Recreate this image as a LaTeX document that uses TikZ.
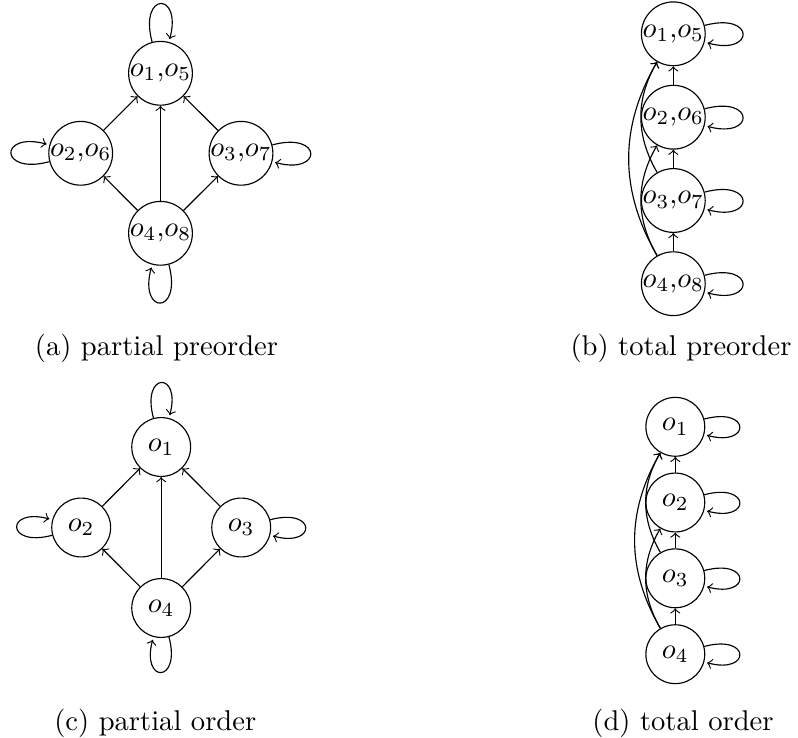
\documentclass[tikz,border=0pt]{standalone}
\begin{document}
\begin{tikzpicture}[x=0.35pt,y=-0.35pt,
  bignode/.style={circle,draw,inner sep=0pt,minimum size=22pt},
  smallnode/.style={circle,draw,inner sep=0pt,minimum size=20.6pt},
  caption/.style={anchor=base,inner sep=0pt}]
\useasboundingbox (0,0) rectangle (798,737);
% (a)
\node[bignode] (a1) at (160.5,73.3) {$o_1$,$o_5$};
\node[bignode] (a2) at (80.7,153.3) {$o_2$,$o_6$};
\node[bignode] (a3) at (241,153.3) {$o_3$,$o_7$};
\node[bignode] (a4) at (160.5,233.3) {$o_4$,$o_8$};
\path[->] (a2) edge (a1) (a3) edge (a1) (a4) edge (a1) (a4) edge (a2) (a4) edge (a3)
  (a1) edge[loop above] (a1) (a2) edge[loop left] (a2)
  (a3) edge[loop right] (a3) (a4) edge[loop below] (a4);
\node[caption] (capa) at (156.5,355) {(a) partial preorder};
% (b)
\node[bignode] (b1) at (673.3,33.8) {$o_1$,$o_5$};
\node[bignode] (b2) at (673.3,117.2) {$o_2$,$o_6$};
\node[bignode] (b3) at (673.3,200.5) {$o_3$,$o_7$};
\node[bignode] (b4) at (673.3,283.7) {$o_4$,$o_8$};
\path[->] (b2) edge (b1) (b3) edge (b2) (b4) edge (b3)
  (b3) edge[bend left] (b1) (b4) edge[bend left] (b2) (b4) edge[bend left] (b1)
  (b1) edge[loop right] (b1) (b2) edge[loop right] (b2)
  (b3) edge[loop right] (b3) (b4) edge[loop right] (b4);
\node[caption] (capb) at (681,355) {(b) total preorder};
% (c)
\node[smallnode] (c1) at (161.2,447) {$o_1$};
\node[smallnode] (c2) at (81.2,527.5) {$o_2$};
\node[smallnode] (c3) at (241.2,527.5) {$o_3$};
\node[smallnode] (c4) at (161.2,608) {$o_4$};
\path[->] (c2) edge (c1) (c3) edge (c1) (c4) edge (c1) (c4) edge (c2) (c4) edge (c3)
  (c1) edge[loop above] (c1) (c2) edge[loop left] (c2)
  (c3) edge[loop right] (c3) (c4) edge[loop below] (c4);
\node[caption] (capc) at (155.3,730) {(c) partial order};
% (d)
\node[smallnode] (d1) at (675.3,426.8) {$o_1$};
\node[smallnode] (d2) at (675.3,502.5) {$o_2$};
\node[smallnode] (d3) at (675.3,578.3) {$o_3$};
\node[smallnode] (d4) at (675.3,654.2) {$o_4$};
\path[->] (d2) edge (d1) (d3) edge (d2) (d4) edge (d3)
  (d3) edge[bend left] (d1) (d4) edge[bend left] (d2) (d4) edge[bend left] (d1)
  (d1) edge[loop right] (d1) (d2) edge[loop right] (d2)
  (d3) edge[loop right] (d3) (d4) edge[loop right] (d4);
\node[caption] (capd) at (683,730) {(d) total order};
\end{tikzpicture}
\end{document}
